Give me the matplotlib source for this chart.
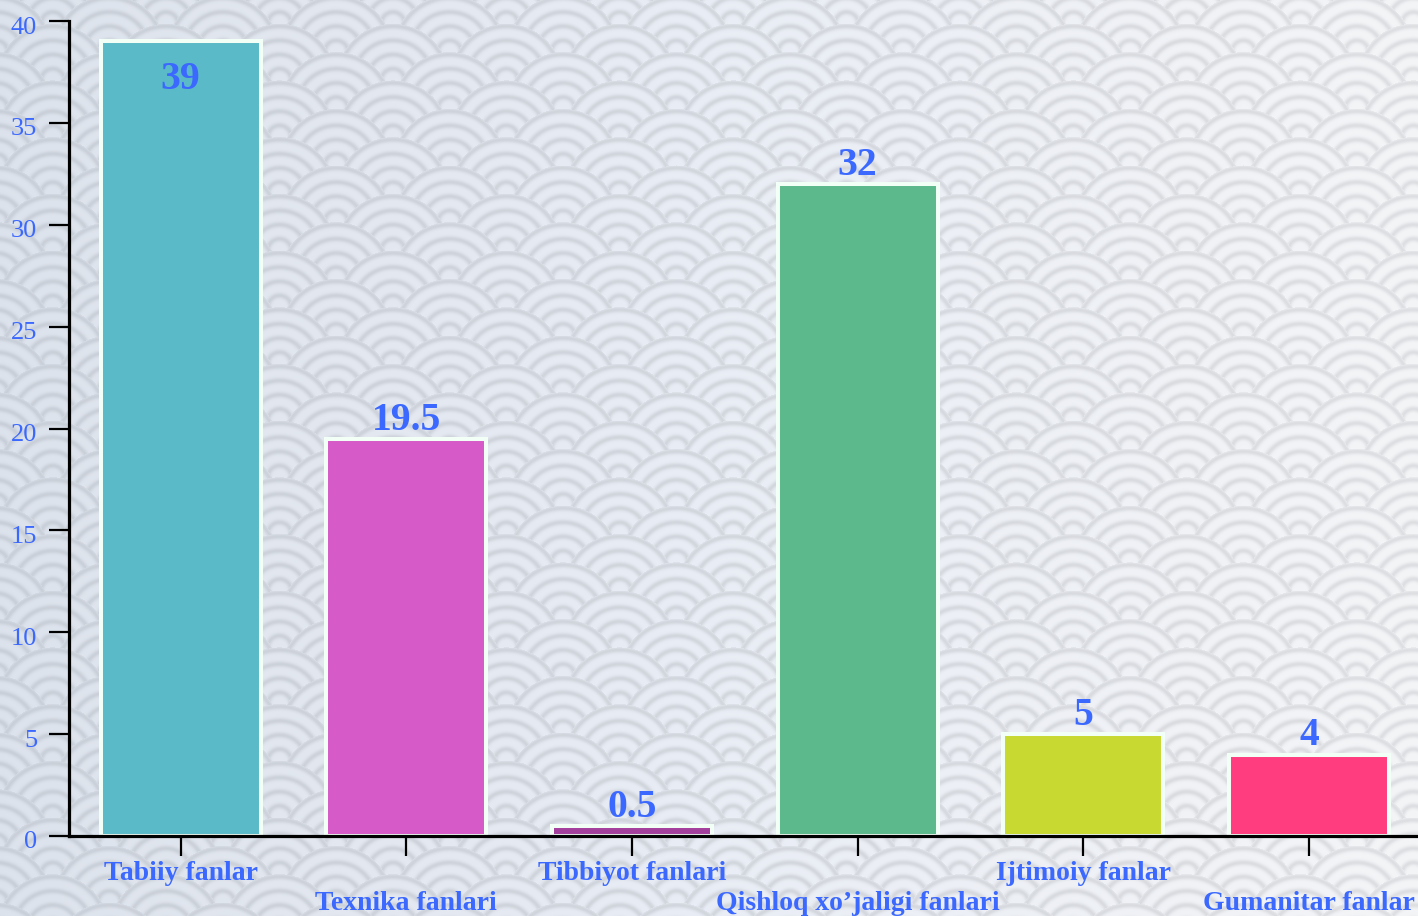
import numpy as np
import matplotlib
matplotlib.use("Agg")
import matplotlib.pyplot as plt
from matplotlib.transforms import ScaledTranslation

# ---------------- data ----------------
categories = ["Tabiiy fanlar", "Texnika fanlari", "Tibbiyot fanlari",
              "Qishloq xo\u2019jaligi fanlari", "Ijtimoiy fanlar", "Gumanitar fanlar"]
values = [39, 19.5, 0.5, 32, 5, 4]
value_labels = ["39", "19.5", "0.5", "32", "5", "4"]
bar_colors = ["#5bbac8", "#d65bc8", "#a3409d", "#5cb98c", "#c8d932", "#ff3d7f"]
y_ticks = [0, 5, 10, 15, 20, 25, 30, 35, 40]

W, H = 1418, 916
BLUE = "#3b68ff"

fig = plt.figure(figsize=(W / 100, H / 100), dpi=100)

# ---------------- seigaiha background (decoration) ----------------
yy, xx = np.mgrid[0:H, 0:W].astype(float)
r = 56.7
h = r / 2.0
D = np.full((H, W), 1e9)
x0, y0 = 1243.0, 165.0
jmin = int(np.floor((0 - y0) / h)) - 1
jmax = int(np.ceil((H + r - y0) / h)) + 1
for j in range(jmin, jmax + 1):
    yc = y0 + j * h
    off = x0 + (j % 2) * r
    dx = np.mod(xx - off + r, 2 * r) - r
    d = np.sqrt(dx ** 2 + (yy - yc) ** 2)
    m = d < r
    D[m] = d[m]
band = r / 4.0
ring_r = np.array([r - 2.5 - k * band for k in range(4)])
dd = np.min(np.abs(D[..., None] - ring_r[None, None, :]), axis=2)
g = 0.85 * np.exp(-(dd / 2.8) ** 2)
t = xx / W
white = np.stack([np.interp(t, [0, 0.5, 1], [221, 233, 244]),
                  np.interp(t, [0, 0.5, 1], [227, 237, 245]),
                  np.interp(t, [0, 0.5, 1], [236, 245, 247])], axis=-1)
gray = np.stack([np.interp(t, [0, 0.5, 1], [198, 206, 218]),
                 np.interp(t, [0, 0.5, 1], [204, 210, 219]),
                 np.interp(t, [0, 0.5, 1], [213, 217, 222])], axis=-1)
img = (white * (1 - g[..., None]) + gray * g[..., None]) / 255.0
bg = fig.add_axes([0, 0, 1, 1], zorder=-10)
bg.imshow(img, aspect="auto", interpolation="bilinear")
bg.axis("off")

# ---------------- main chart ----------------
left_px, right_px = 69.0, 1421.8
bottom_px, top_px = 836.0, 21.0
ax = fig.add_axes([left_px / W, (H - bottom_px) / H,
                   (right_px - left_px) / W, (bottom_px - top_px) / H])
ax.patch.set_alpha(0)

x = np.arange(len(categories))
ax.bar(x, values, width=0.709, color=bar_colors, edgecolor="#f2fff7",
       linewidth=2.9, zorder=2)

ax.set_xlim(-0.495, 5.5)
ax.set_ylim(0, 40)
ax.set_yticks(y_ticks)
ax.set_xticks(x)
ax.set_xticklabels(categories)

for s in ["top", "right"]:
    ax.spines[s].set_visible(False)
for s in ["left", "bottom"]:
    ax.spines[s].set_linewidth(2.3)
    ax.spines[s].set_color("black")
    ax.spines[s].set_zorder(5)

ax.tick_params(axis="y", direction="out", length=14.4, width=1.6, pad=8.5,
               labelsize=19, labelcolor=BLUE, color="black")
ax.tick_params(axis="x", direction="out", length=14.4, width=1.6, pad=3.5,
               labelsize=20, labelcolor=BLUE, color="black")

for lab in ax.get_yticklabels():
    lab.set_family("Liberation Serif")
    lab.set_transform(lab.get_transform() +
                      ScaledTranslation(0, -4 / 100, fig.dpi_scale_trans))
for i, lab in enumerate(ax.get_xticklabels()):
    lab.set_family("Liberation Serif")
    lab.set_fontweight("bold")
    if i % 2 == 1:
        lab.set_transform(lab.get_transform() +
                          ScaledTranslation(0, -30 / 100, fig.dpi_scale_trans))

ymax = ax.get_ylim()[1]
for xi, v, txt in zip(x, values, value_labels):
    if v > 0.9 * ymax:
        off = -34.0
    else:
        off = 6.5
    ax.annotate(txt, (xi, v), xytext=(0, off), textcoords="offset points",
                ha="center", va="baseline", fontsize=28.5, fontweight="bold",
                family="Liberation Serif", color=BLUE, zorder=6)

fig.savefig("out.png", dpi=100)
